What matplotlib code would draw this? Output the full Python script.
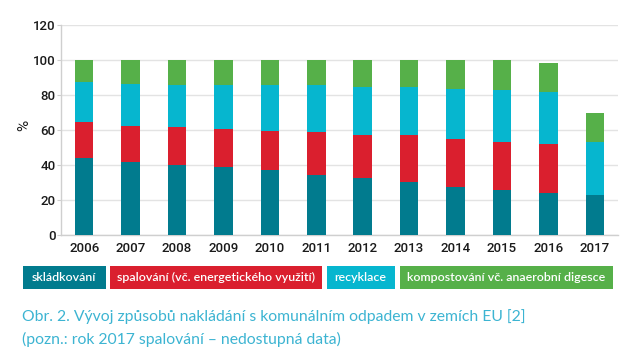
import matplotlib
matplotlib.use("Agg")
import matplotlib.pyplot as plt
from matplotlib.patches import Rectangle
import numpy as np

# data (% of municipal waste)
years = ["2006", "2007", "2008", "2009", "2010", "2011",
         "2012", "2013", "2014", "2015", "2016", "2017"]
skladkovani = [44, 42, 40, 39, 37, 34.5, 32.5, 30.5, 27.5, 25.5, 24, 23]
spalovani = [20.5, 20.5, 21.5, 21.5, 22.5, 24.5, 24.5, 26.5, 27.5, 27.5, 28, 0]
recyklace = [23, 24, 24, 25, 26, 26.5, 27.5, 27.5, 28.5, 30, 29.5, 30]
kompostovani = [12.5, 13.5, 14.5, 14.5, 14.5, 14.5, 15.5, 15.5, 16.5, 17, 17, 17]

series = [skladkovani, spalovani, recyklace, kompostovani]
labels = ["skládkování", "spalování (vč. energetického využití)",
          "recyklace", "kompostování vč. anaerobní digesce"]
colors = ["#017b8e", "#da1f2e", "#06b6cf", "#56b049"]
caption_col = "#3cb4d2"

fig = plt.figure(figsize=(6.36, 3.57), dpi=100)
ax = fig.add_axes([61 / 636, 1 - 235 / 357, (618 - 61) / 636, 210 / 357])

x = np.arange(len(years))
bottom = np.zeros(len(years))
for vals, col in zip(series, colors):
    ax.bar(x, vals, width=0.4, bottom=bottom, color=col, zorder=3)
    bottom += np.array(vals)

ax.set_xlim(-0.5, len(years) - 0.5)
ax.set_ylim(0, 120)
ax.set_yticks(range(0, 121, 20))
ax.set_xticks(x)
ax.set_xticklabels(years)
ax.grid(axis="y", color="#e3e3e3", linewidth=1, zorder=0)

for s in ["top", "right"]:
    ax.spines[s].set_visible(False)
for s in ["left", "bottom"]:
    ax.spines[s].set_color("#cfcfcf")
    ax.spines[s].set_linewidth(1)

ax.tick_params(axis="y", length=3, color="#cfcfcf", pad=1, labelsize=9.5)
ax.tick_params(axis="x", length=0, pad=5, labelsize=9.5)
for t in ax.get_xticklabels() + ax.get_yticklabels():
    t.set_family("Roboto")
    t.set_weight("medium")
    t.set_color("#1a1a1a")
ax.set_ylabel("%", fontsize=11, family="Roboto", color="#1a1a1a")
ax.yaxis.set_label_coords(-30 / 557, 0.52)

# legend drawn as coloured boxes with white labels
boxes = [(22.7, 106), (110, 322), (326.7, 394.7), (400, 613)]
for (x0, x1), lab, col in zip(boxes, labels, colors):
    fig.patches.append(Rectangle((x0 / 636, 1 - 289.3 / 357), (x1 - x0) / 636,
                                 23.3 / 357, transform=fig.transFigure,
                                 facecolor=col, edgecolor="none"))
    fig.text((x0 + x1) / 2 / 636, 1 - 277.5 / 357, lab, color="white",
             ha="center", va="center", fontsize=8.9, family="Lato",
             weight="semibold")

fig.text(22 / 636, 1 - 321 / 357,
         "Obr. 2. Vývoj způsobů nakládání s komunálním odpadem v zemích EU [2]",
         color=caption_col, fontsize=11.3, family="Lato", weight="normal",
         va="baseline")
fig.text(22 / 636, 1 - 344 / 357,
         "(pozn.: rok 2017 spalování – nedostupná data)",
         color=caption_col, fontsize=11.3, family="Lato", weight="normal",
         va="baseline")

fig.savefig("out.png", dpi=100)
